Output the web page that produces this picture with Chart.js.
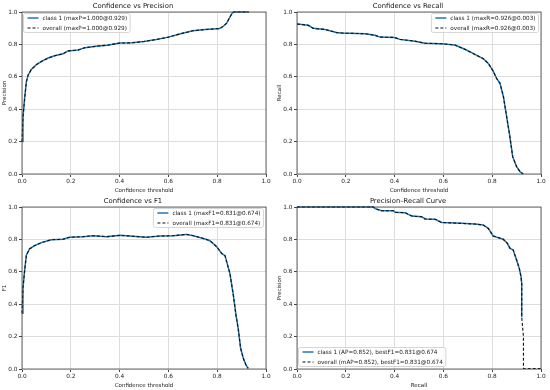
<!DOCTYPE html>
<html><head><meta charset="utf-8">
<script src="https://cdn.jsdelivr.net/npm/chart.js@4.4.0/dist/chart.umd.min.js"></script>
<style>
html,body{margin:0;padding:0;background:#fff;width:550px;height:390px;overflow:hidden}
canvas{position:absolute}
</style></head><body>
<canvas id="c1" width="275" height="195" style="left:0;top:0"></canvas>
<canvas id="c2" width="275" height="195" style="left:275px;top:0"></canvas>
<canvas id="c3" width="275" height="195" style="left:0;top:195px"></canvas>
<canvas id="c4" width="275" height="195" style="left:275px;top:195px"></canvas>
<script>
// ---- data ----
const tickValues = [0, 0.2, 0.4, 0.6, 0.8, 1.0];

const confP = [0, 0.004, 0.011, 0.018, 0.025, 0.038, 0.059, 0.08, 0.107, 0.134, 0.168, 0.189, 0.23, 0.258, 0.312, 0.35, 0.4, 0.45, 0.5, 0.55, 0.6, 0.65, 0.7, 0.75, 0.8, 0.81, 0.825, 0.839, 0.85, 0.86, 0.867, 0.929];
const precision = [0.20, 0.35, 0.47, 0.57, 0.61, 0.645, 0.675, 0.695, 0.716, 0.73, 0.742, 0.76, 0.765, 0.78, 0.79, 0.795, 0.808, 0.81, 0.818, 0.83, 0.845, 0.866, 0.884, 0.892, 0.897, 0.898, 0.912, 0.932, 0.963, 0.99, 1.0, 1.0];

const confR = [0, 0.046, 0.067, 0.115, 0.162, 0.183, 0.279, 0.32, 0.34, 0.40, 0.422, 0.483, 0.525, 0.593, 0.647, 0.688, 0.729, 0.763, 0.784, 0.804, 0.818, 0.832, 0.846, 0.857, 0.871, 0.884, 0.9, 0.914, 0.927];
const recall = [0.926, 0.918, 0.899, 0.892, 0.873, 0.87, 0.866, 0.856, 0.845, 0.843, 0.831, 0.82, 0.807, 0.804, 0.796, 0.77, 0.738, 0.712, 0.683, 0.635, 0.59, 0.56, 0.477, 0.374, 0.245, 0.107, 0.045, 0.014, 0.0];

const confF1 = [0, 0.004, 0.011, 0.018, 0.031, 0.052, 0.079, 0.12, 0.168, 0.195, 0.251, 0.292, 0.347, 0.402, 0.456, 0.51, 0.565, 0.62, 0.674, 0.702, 0.743, 0.77, 0.798, 0.818, 0.832, 0.852, 0.866, 0.877, 0.886, 0.896, 0.907, 0.918, 0.927];
const f1 = [0.344, 0.50, 0.611, 0.704, 0.742, 0.762, 0.78, 0.798, 0.801, 0.813, 0.817, 0.823, 0.817, 0.825, 0.819, 0.813, 0.821, 0.823, 0.831, 0.823, 0.806, 0.792, 0.755, 0.714, 0.70, 0.59, 0.457, 0.333, 0.251, 0.128, 0.066, 0.025, 0.004];

const prRecall = [0, 0.313, 0.32, 0.347, 0.395, 0.402, 0.443, 0.47, 0.511, 0.525, 0.566, 0.593, 0.675, 0.729, 0.763, 0.784, 0.804, 0.825, 0.845, 0.862, 0.873, 0.886, 0.9, 0.911, 0.918, 0.921, 0.921];
const prPrecision = [1, 1, 0.99, 0.977, 0.977, 0.967, 0.965, 0.944, 0.94, 0.926, 0.924, 0.905, 0.899, 0.895, 0.889, 0.868, 0.821, 0.811, 0.801, 0.776, 0.745, 0.735, 0.673, 0.621, 0.57, 0.529, 0.32];
const prTailRecall = [0.928, 0.928, 1.0];
const prTailPrecision = [0.2, 0.003, 0.003];

const FONT = 'DejaVu Sans';

function pts(xs, ys) { return xs.map((x, i) => ({ x: x, y: ys[i] })); }

const framePlugin = {
  id: 'frame',
  afterDatasetsDraw(chart) {
    const { ctx, chartArea: a } = chart;
    ctx.save();
    ctx.strokeStyle = '#444';
    ctx.lineWidth = 0.8;
    ctx.strokeRect(a.left, a.top, a.right - a.left, a.bottom - a.top);
    ctx.restore();
  }
};

const insideLegend = {
  id: 'insideLegend',
  afterDraw(chart, args, opts) {
    const { ctx, chartArea: a } = chart;
    const items = chart.data.datasets.filter(d => d.label);
    ctx.save();
    ctx.font = opts.fontSize + 'px "' + FONT + '"';
    const tw = Math.max(...items.map(d => ctx.measureText(d.label).width));
    const pad = 4, sw = 11, gap = 4, rowH = 10;
    const w = pad + sw + gap + tw + 3, h = rowH * items.length - 1;
    let x, y;
    if (opts.corner === 'tl') { x = a.left + 1.5; y = a.top + 1.5; }
    else if (opts.corner === 'tr') { x = a.right - 2.5 - w; y = a.top + 1.5; }
    else { x = a.left + 1.5; y = a.bottom - 2.5 - h; }
    ctx.fillStyle = 'rgba(255,255,255,0.8)';
    ctx.strokeStyle = '#cccccc';
    ctx.lineWidth = 0.8;
    ctx.beginPath();
    ctx.roundRect(x, y, w, h, 2);
    ctx.fill(); ctx.stroke();
    items.forEach((d, i) => {
      const cy = y + 4.5 + i * rowH;
      ctx.save();
      ctx.strokeStyle = d.borderColor;
      ctx.lineWidth = d.borderWidth;
      ctx.setLineDash(d.borderDash || []);
      ctx.beginPath();
      ctx.moveTo(x + pad, cy); ctx.lineTo(x + pad + sw, cy);
      ctx.stroke();
      ctx.restore();
      ctx.fillStyle = '#222';
      ctx.textBaseline = 'middle';
      ctx.textAlign = 'left';
      ctx.fillText(d.label, x + pad + sw + gap, cy + 0.5);
    });
    ctx.restore();
  }
};

function makeChart(id, title, xTitle, yTitle, sets, corner) {
  const axisCommon = {
    type: 'linear', min: 0, max: 1,
    afterBuildTicks: s => { s.ticks = tickValues.map(v => ({ value: v })); },
    grid: { color: '#dddddd', lineWidth: 1, drawTicks: true, tickLength: 3, tickColor: '#444' },
    border: { display: false },
    ticks: { font: { family: FONT, size: 5.8 }, color: '#222', padding: 1.5, maxRotation: 0, autoSkip: false,
      callback: v => Number(v).toFixed(1) }
  };
  return new Chart(document.getElementById(id), {
    type: 'scatter',
    data: { datasets: sets },
    plugins: [framePlugin, insideLegend],
    options: {
      responsive: false, animation: false,
      layout: { padding: { left: 0, right: 9, top: 0, bottom: 0 } },
      elements: { point: { radius: 0 }, line: { tension: 0 } },
      plugins: {
        legend: { display: false },
        tooltip: { enabled: false },
        title: { display: true, text: title, color: '#111',
          font: { family: FONT, size: 6.8, weight: 'normal' }, padding: { top: 2, bottom: 1.85 } },
        insideLegend: { corner: corner, fontSize: 5.7 }
      },
      scales: {
        x: Object.assign({}, axisCommon, {
          position: 'bottom',
          title: { display: true, text: xTitle, color: '#222', font: { family: FONT, size: 5.5 }, padding: { top: 0, bottom: 1 } },
          afterFit: s => { s.height = 21; }
        }),
        y: Object.assign({}, axisCommon, {
          position: 'left',
          title: { display: true, text: yTitle, color: '#222', font: { family: FONT, size: 5.5 }, padding: { top: 1, bottom: 0 } },
          afterFit: s => { s.width = 22; }
        })
      }
    }
  });
}

function ds(label, data, overall) {
  return overall
    ? { label: label, data: data, order: 0, showLine: true, borderColor: '#111111', borderWidth: 1.1, borderDash: [3, 2], clip: false, pointRadius: 0 }
    : { label: label, data: data, order: 1, showLine: true, borderColor: '#1f77b4', borderWidth: 1.5, clip: false, pointRadius: 0 };
}

makeChart('c1', 'Confidence vs Precision', 'Confidence threshold', 'Precision', [
  ds('class 1 (maxP=1.000@0.929)', pts(confP, precision), false),
  ds('overall (maxP=1.000@0.929)', pts(confP, precision), true)
], 'tl');

makeChart('c2', 'Confidence vs Recall', 'Confidence threshold', 'Recall', [
  ds('class 1 (maxR=0.926@0.003)', pts(confR, recall), false),
  ds('overall (maxR=0.926@0.003)', pts(confR, recall), true)
], 'tr');

makeChart('c3', 'Confidence vs F1', 'Confidence threshold', 'F1', [
  ds('class 1 (maxF1=0.831@0.674)', pts(confF1, f1), false),
  ds('overall (maxF1=0.831@0.674)', pts(confF1, f1), true)
], 'tr');

makeChart('c4', 'Precision\u2013Recall Curve', 'Recall', 'Precision', [
  ds('class 1 (AP=0.852), bestF1=0.831@0.674', pts(prRecall, prPrecision), false),
  ds('overall (mAP=0.852), bestF1=0.831@0.674', pts(prRecall.concat(prTailRecall), prPrecision.concat(prTailPrecision)), true)
], 'bl');
</script>
</body></html>
